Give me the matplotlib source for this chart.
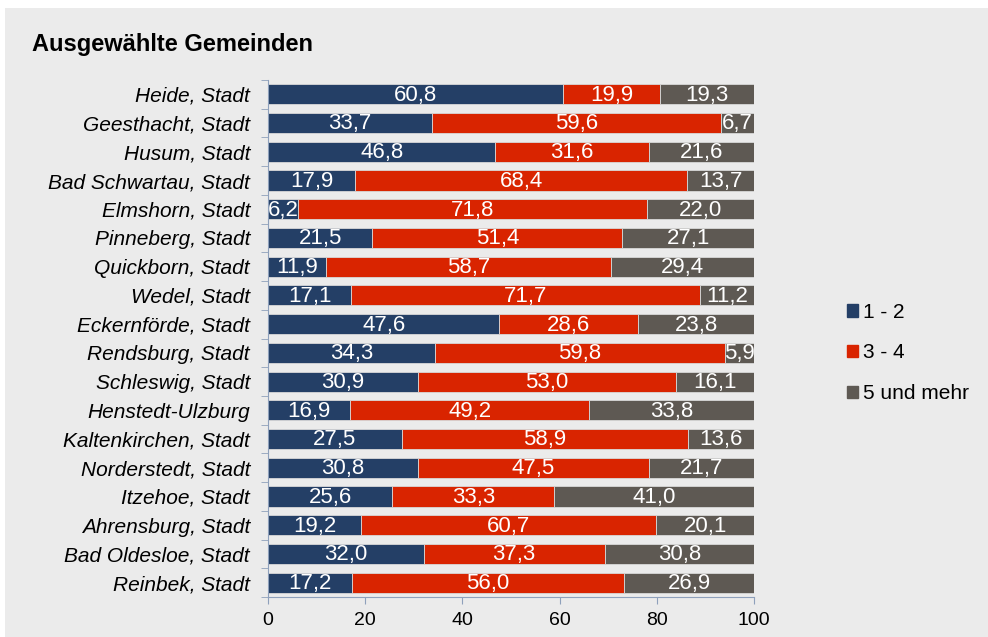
import matplotlib.pyplot as plt
import matplotlib.patches as mpatches
import numpy as np

plt.rcParams['font.family'] = ['Liberation Sans', 'DejaVu Sans']

gemeinden = ['Heide, Stadt', 'Geesthacht, Stadt', 'Husum, Stadt', 'Bad Schwartau, Stadt',
             'Elmshorn, Stadt', 'Pinneberg, Stadt', 'Quickborn, Stadt', 'Wedel, Stadt',
             'Eckernförde, Stadt', 'Rendsburg, Stadt', 'Schleswig, Stadt', 'Henstedt-Ulzburg',
             'Kaltenkirchen, Stadt', 'Norderstedt, Stadt', 'Itzehoe, Stadt', 'Ahrensburg, Stadt',
             'Bad Oldesloe, Stadt', 'Reinbek, Stadt']
p12 = [60.8, 33.7, 46.8, 17.9, 6.2, 21.5, 11.9, 17.1, 47.6, 34.3, 30.9, 16.9, 27.5, 30.8, 25.6, 19.2, 32.0, 17.2]
p34 = [19.9, 59.6, 31.6, 68.4, 71.8, 51.4, 58.7, 71.7, 28.6, 59.8, 53.0, 49.2, 58.9, 47.5, 33.3, 60.7, 37.3, 56.0]
p5 = [19.3, 6.7, 21.6, 13.7, 22.0, 27.1, 29.4, 11.2, 23.8, 5.9, 16.1, 33.8, 13.6, 21.7, 41.0, 20.1, 30.8, 26.9]
serien = ['1 - 2', '3 - 4', '5 und mehr']
farben = ['#243f66', '#d92400', '#5e5953']

bg = '#ebebeb'
fig = plt.figure(figsize=(9.88, 6.37), dpi=100, facecolor='white')
fig.patches.append(mpatches.Rectangle((5/988, 0), 1, 1 - 8/637, transform=fig.transFigure,
                                      facecolor=bg, edgecolor='none', zorder=-10))
ax = fig.add_axes([268/988, 1 - 597/637, (754 - 268)/988, (597 - 80)/637])
ax.set_facecolor(bg)

y = np.arange(len(gemeinden))
links = np.zeros(len(gemeinden))
for werte, farbe, name in zip([p12, p34, p5], farben, serien):
    werte = np.array(werte)
    ax.barh(y, werte, left=links, height=0.7, color=farbe, edgecolor='#d8d8d8',
            linewidth=0.6, label=name)
    for yi, l, w in zip(y, links, werte):
        ax.text(l + w / 2, yi + 0.03, f'{w:.1f}'.replace('.', ','), ha='center', va='center',
                color='white', fontsize=16)
    links = links + werte

ax.set_xlim(0, 100)
ax.set_ylim(len(gemeinden) - 0.5, -0.5)
ax.set_xticks([0, 20, 40, 60, 80, 100])
ax.tick_params(axis='x', labelsize=14, length=5, color='#8ea0bb', pad=6)
ax.set_yticks(y)
ax.set_yticklabels(gemeinden, fontsize=15, style='italic')
ax.set_yticks(np.arange(-0.5, len(gemeinden)), minor=True)
ax.tick_params(axis='y', which='major', length=0, pad=13)
ax.tick_params(axis='y', which='minor', length=5, color='#8ea0bb')
for s in ['top', 'right']:
    ax.spines[s].set_visible(False)
for s in ['left', 'bottom']:
    ax.spines[s].set_color('#8ea0bb')

fig.text(32/988, 1 - 45/637, 'Ausgewählte Gemeinden', fontsize=17, fontweight='bold',
         va='center', ha='left')

handles = [mpatches.Patch(color=c, label=n) for c, n in zip(farben, serien)]
fig.legend(handles=handles, loc='center left', bbox_to_anchor=(828/988, 1 - 353/637),
           frameon=False, fontsize=15, handlelength=0.55, handleheight=0.55,
           handletextpad=0.25, labelspacing=1.05)

fig.savefig('out.png', dpi=100, facecolor=fig.get_facecolor())
